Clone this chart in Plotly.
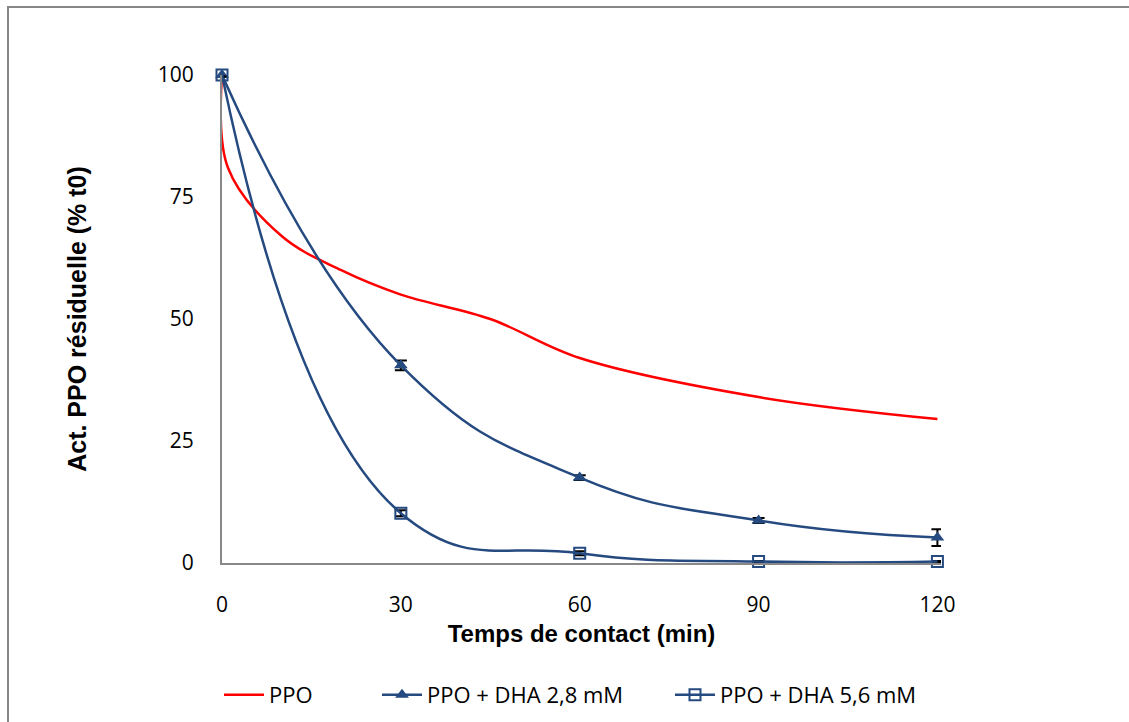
import plotly.graph_objects as go

# Temps de contact (min)
t_ppo = [0, 1, 10, 20, 30, 45, 60, 90, 120]
act_ppo = [100, 81, 67, 60, 55, 50, 42, 34, 29.5]

t_dha = [0, 30, 60, 90, 120]
act_dha28 = [100, 40.5, 17.5, 8.7, 5.2]
err_dha28 = [0.3, 1.0, 0.5, 0.5, 1.7]
act_dha56 = [100, 10.2, 2.0, 0.3, 0.3]
err_dha56 = [0.3, 0.6, 0.4, 0.1, 0.1]

blue = '#254a80'

# plot area in pixels, used to place things outside it
L, R, T, B = 222, 188, 75, 159
W, H = 1129, 722
pw, ph = W - L - R, H - T - B

def px(x):
    return (x - L) / pw

def py(y):
    return (H - B - y) / ph

fig = go.Figure()

fig.add_trace(go.Scatter(
    x=t_ppo, y=act_ppo, mode='lines', name='PPO',
    line=dict(color='#ff0000', width=2.5, shape='spline', smoothing=1),
    legend='legend', cliponaxis=False
))

fig.add_trace(go.Scatter(
    x=t_dha, y=act_dha28, mode='lines+markers', name='PPO + DHA 2,8 mM',
    line=dict(color=blue, width=2.5, shape='spline', smoothing=1.3),
    marker=dict(symbol='triangle-up', size=12, color=blue),
    error_y=dict(type='data', array=err_dha28, color='black', thickness=2, width=6),
    legend='legend2', cliponaxis=False
))

fig.add_trace(go.Scatter(
    x=t_dha, y=act_dha56, mode='lines+markers', name='PPO + DHA 5,6 mM',
    line=dict(color=blue, width=2.5, shape='spline', smoothing=1.3),
    marker=dict(symbol='square-open', size=11, color=blue, line=dict(width=2)),
    error_y=dict(type='data', array=err_dha56, color='black', thickness=2, width=6),
    legend='legend3', cliponaxis=False
))

# chart area border (goes off the image on the right and bottom)
fig.add_shape(type='rect', xref='paper', yref='paper',
              x0=px(8), x1=px(1140), y0=py(735), y1=py(7),
              line=dict(color='#868686', width=2), layer='below')

leg = dict(orientation='h', xanchor='left', yanchor='middle',
           font=dict(family='Open Sans', size=22, color='black'),
           bgcolor='rgba(0,0,0,0)', itemwidth=40)

fig.update_layout(
    width=W, height=H,
    margin=dict(l=L, r=R, t=T, b=B, autoexpand=False),
    paper_bgcolor='white', plot_bgcolor='white',
    showlegend=True,
    legend=dict(leg, x=px(219), y=py(695)),
    legend2=dict(leg, x=px(377), y=py(695)),
    legend3=dict(leg, x=px(670), y=py(695)),
    xaxis=dict(
        range=[0, 120.6], tickvals=[0, 30, 60, 90, 120],
        showgrid=False, zeroline=False, showline=True,
        linecolor='#888888', linewidth=2, ticks='',
        ticklabelstandoff=22,
        tickfont=dict(family='Open Sans', size=21, color='black'),
        title=dict(text='<b>Temps de contact (min)</b>', standoff=8,
                   font=dict(family='Liberation Sans', size=24, color='black'))
    ),
    yaxis=dict(
        range=[0, 100], tickvals=[0, 25, 50, 75, 100],
        showgrid=False, zeroline=False, showline=True,
        linecolor='#888888', linewidth=2, ticks='',
        ticklabelstandoff=22,
        tickfont=dict(family='Open Sans', size=21, color='black'),
        title=dict(text='<b>Act. PPO résiduelle (% t0)</b>', standoff=64,
                   font=dict(family='Liberation Sans', size=25, color='black'))
    ),
)

# the page body has an 8px margin by default; remove it so pixels line up
fig.write_html("out.html", config={'displayModeBar': False},
               post_script="document.body.style.margin='0';")
